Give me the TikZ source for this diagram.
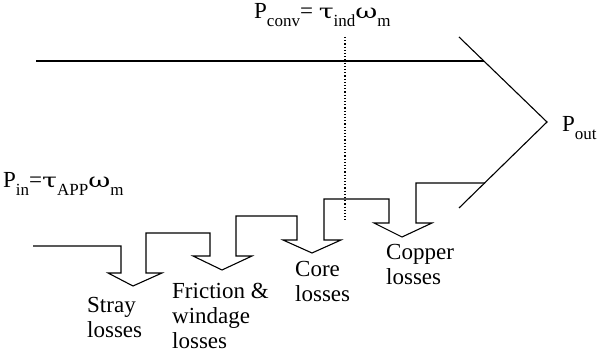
\documentclass[tikz,border=0pt]{standalone}
\usepackage{fontspec}
\usepackage{graphicx}
\setmainfont{Liberation Serif}
\newfontfamily\grkfont{DejaVu Serif}
\newcommand{\sbs}[1]{\raisebox{-0.34em}{\fontsize{17}{17}\selectfont #1}}
\newcommand{\grk}[1]{\scalebox{1.35}[1]{\grkfont\fontsize{20}{20}\selectfont #1}}
\tikzset{
  flow/.style={line width=1.1pt, line join=miter},
  lbl/.style={inner sep=0pt, align=left, anchor=north west, font=\fontsize{23}{25}\selectfont},
  eq/.style={inner sep=0pt, anchor=base west, font=\fontsize{23}{25}\selectfont}
}
\begin{document}
\begin{tikzpicture}[x=1pt,y=-1pt]
\useasboundingbox (0,0) rectangle (598,352);
% top edge of the flow
\coordinate (topL) at (36,61);
\coordinate (topR) at (484,61);
\coordinate (tipA) at (459,37);
\coordinate (tip) at (547,122);
\coordinate (tipB) at (459,208);
\draw[flow] (topL) -- (topR);
\draw[flow] (tipA) -- (tip) -- (tipB);
% bottom edge with loss arrows
\draw[flow] (33,246) -- (121,246) -- (121,273) -- (108,273) -- (133,286) -- (162,273) -- (146,273)
  -- (146,233) -- (210,233) -- (210,256) -- (193,256) -- (222,270) -- (252,256) -- (236,256)
  -- (236,216) -- (297,216) -- (297,240) -- (283,240) -- (312,253) -- (341,240) -- (324,240)
  -- (324,199) -- (389,199) -- (389,223) -- (374,223) -- (402,237) -- (432,223) -- (416,223)
  -- (416,183) -- (485,183);
% dotted divider
\coordinate (dotT) at (345,37);
\coordinate (dotB) at (345,220);
\draw[line width=1.2pt, dotted] (dotT) -- (dotB);
% labels
\node[eq] (pconv) at (254,19) {P\sbs{conv}= \grk{τ}\sbs{ind}\grk{ω}\sbs{m}};
\node[eq] (pin) at (3,188) {P\sbs{in}=\grk{τ}\sbs{APP}\grk{ω}\sbs{m}};
\node[eq] (pout) at (562,132) {P\sbs{out}};
\node[lbl] (stray) at (87,297) {Stray\\losses};
\node[lbl] (fric) at (172,283) {Friction \&\\windage\\losses};
\node[lbl] (core) at (295,261) {Core\\losses};
\node[lbl] (copper) at (386,244) {Copper\\losses};
\end{tikzpicture}
\end{document}
